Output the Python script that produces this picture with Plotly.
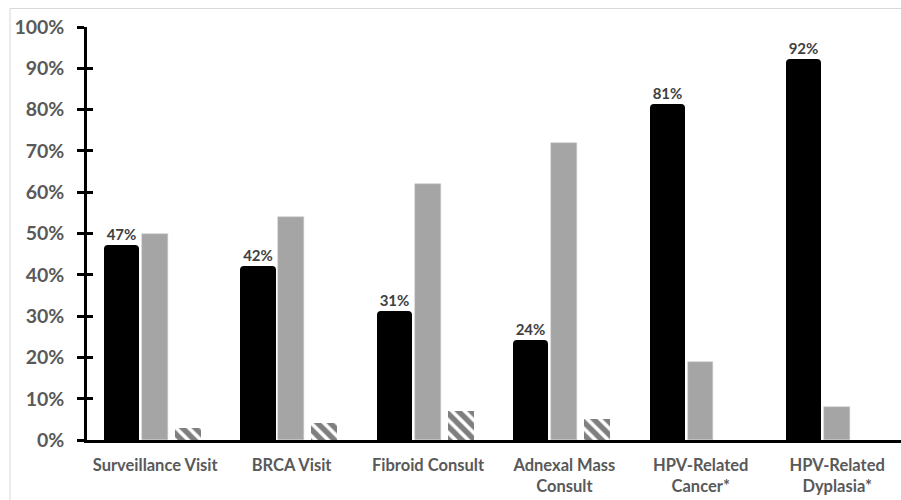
import plotly.graph_objects as go

# Visit types along the x axis
categories = [
    "Surveillance Visit",
    "BRCA Visit",
    "Fibroid Consult",
    "Adnexal Mass<br>Consult",
    "HPV-Related<br>Cancer*",
    "HPV-Related<br>Dyplasia*",
]

# Percent of visits per group
black_values = [47, 42, 31, 24, 81, 92]
gray_values = [50, 54, 62, 72, 19, 8]
hatched_values = [3, 4, 7, 5, 0, 0]

y_ticks = list(range(0, 101, 10))
y_tick_labels = [f"{v}%" for v in y_ticks]

FONT = "Lato"
LABEL_GRAY = "#595959"

fig = go.Figure()

fig.add_trace(go.Bar(
    x=categories, y=black_values,
    width=0.243, offset=-0.368,
    marker=dict(color="black", line=dict(color="black", width=2), cornerradius=3),
    text=[f"{v}%" for v in black_values],
    textposition="outside",
    textfont=dict(family=FONT, size=15, color="#404040", weight="bold"),
    cliponaxis=False,
    hoverinfo="x+y",
))

fig.add_trace(go.Bar(
    x=categories, y=gray_values,
    width=0.19, offset=-0.097,
    marker=dict(color="#a5a5a5", line=dict(color="#c8c8c8", width=0.5)),
    hoverinfo="x+y",
))

fig.add_trace(go.Bar(
    x=categories, y=hatched_values,
    width=0.19, offset=0.145,
    marker=dict(
        color="white",
        line=dict(width=0),
        pattern=dict(shape="\\", fgcolor="black", bgcolor="white", size=9, solidity=0.6),
    ),
    hoverinfo="x+y",
))

# invisible trace that carries the inward half of the crossing y ticks
fig.add_trace(go.Scatter(x=[categories[0]], y=[0], yaxis="y2", mode="markers",
                         marker=dict(opacity=0), hoverinfo="skip", showlegend=False))

fig.update_layout(
    width=901, height=500,
    margin=dict(l=87, r=0, t=27, b=60),
    paper_bgcolor="white", plot_bgcolor="white",
    barmode="overlay",
    showlegend=False,
    bargap=0,
    xaxis=dict(
        range=[-0.5, 5.468],
        showline=True, linecolor="black", linewidth=2.5,
        ticks="", showgrid=False, zeroline=False,
        ticklabelstandoff=8,
        tickfont=dict(family=FONT, size=16.5, color=LABEL_GRAY, weight="bold"),
        fixedrange=True,
    ),
    yaxis=dict(
        range=[0, 100],
        tickvals=y_ticks, ticktext=y_tick_labels,
        showline=True, linecolor="black", linewidth=2.5,
        ticks="outside", ticklen=7, tickwidth=2.5, tickcolor="black",
        ticklabelstandoff=9,
        showgrid=False, zeroline=False,
        tickfont=dict(family=FONT, size=19.5, color=LABEL_GRAY, weight="bold"),
    ),
    yaxis2=dict(
        range=[0, 100], overlaying="y", side="left",
        tickvals=y_ticks, showticklabels=False,
        ticks="inside", ticklen=6, tickwidth=2.5, tickcolor="black",
        showline=False, showgrid=False, zeroline=False,
    ),
    shapes=[dict(
        type="rect", xref="paper", yref="paper",
        x0=-0.0946, x1=1.1, y0=-0.2, y1=1.0448,
        line=dict(color="#d9d9d9", width=1), fillcolor="rgba(0,0,0,0)", layer="below",
    )],
)

fig.write_html("out.html")
